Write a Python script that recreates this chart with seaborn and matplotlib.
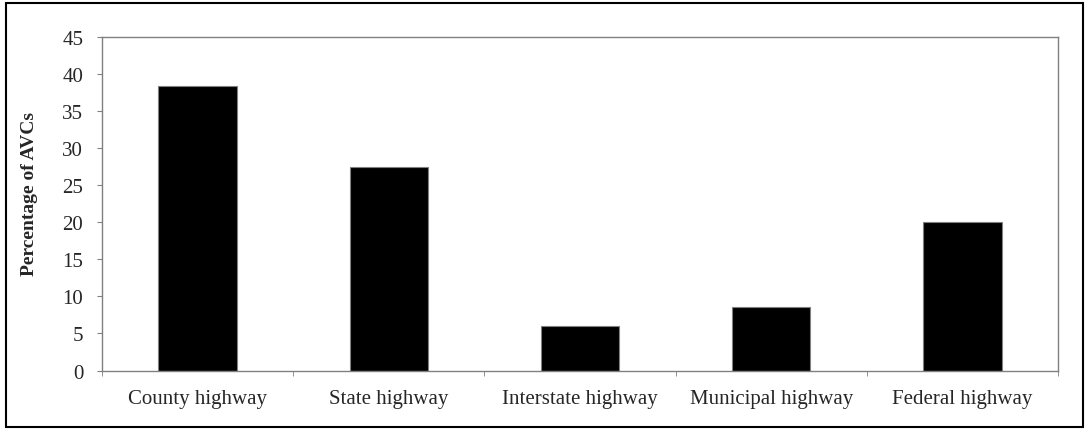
import matplotlib
matplotlib.use("Agg")
import matplotlib.pyplot as plt
import seaborn as sns
import pandas as pd
import numpy as np
from matplotlib.patches import Rectangle

# Data
roads = ['County highway', 'State highway', 'Interstate highway',
         'Municipal highway', 'Federal highway']
pct_avcs = [38.4, 27.4, 6.0, 8.6, 20.0]

df = pd.DataFrame({'road': roads, 'pct': pct_avcs})

sns.set_style('white')
plt.rcParams['font.family'] = ['Liberation Serif', 'DejaVu Serif']

fig = plt.figure(figsize=(10.88, 4.31), dpi=100)
ax = fig.add_axes([0.0938, 0.138, 0.9724 - 0.0938, 0.9118 - 0.138])

sns.barplot(data=df, x='road', y='pct', color='black', edgecolor='#808080',
            linewidth=0.8, width=0.41, saturation=1, ax=ax)

ax.set_xlim(-0.5, len(roads) - 0.5)
ax.set_ylim(0, 45)
ax.set_yticks(np.arange(0, 46, 5))
ax.tick_params(axis='y', labelsize=15, length=3.6, color='#808080', direction='out', left=True, pad=10)
ax.tick_params(axis='x', which='major', labelsize=15, length=0, pad=13)
ax.set_xticks(np.arange(-0.5, len(roads), 1), minor=True)
ax.tick_params(axis='x', which='minor', length=3.6, color='#808080', direction='out', bottom=True)

for s in ax.spines.values():
    s.set_color('#808080')
    s.set_linewidth(1.0)

ax.set_xlabel('')
ax.set_ylabel('Percentage of AVCs', fontsize=14, fontweight='bold')
ax.yaxis.set_label_coords(-0.067, 0.532)

# outer border around the whole chart
fig.patches.append(Rectangle((6 / 1088, 3 / 431), 1077 / 1088, 424 / 431,
                             transform=fig.transFigure, fill=False,
                             edgecolor='black', linewidth=1.5))

fig.savefig('out.png', dpi=100)
